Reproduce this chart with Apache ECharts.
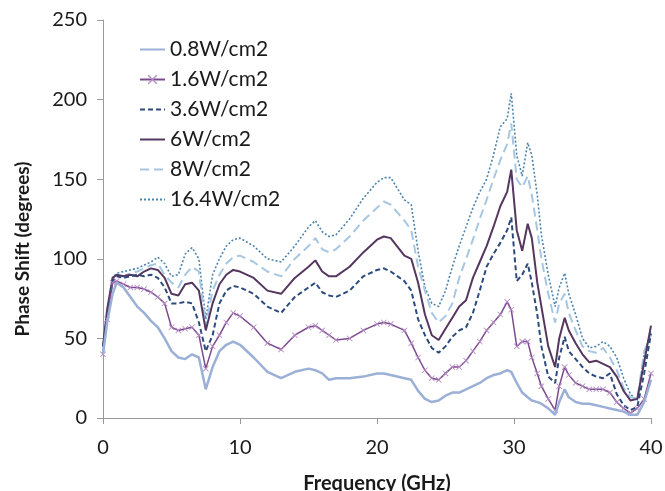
<!DOCTYPE html>
<html>
<head>
<meta charset="utf-8">
<script src="https://cdn.jsdelivr.net/npm/echarts@6/dist/echarts.min.js"></script>
<style>html,body{margin:0;padding:0;background:#fff}#c{width:665px;height:491px}</style>
</head>
<body>
<div id="c"></div>
<script>
const freq = [0,0.3,0.7,1,1.5,2,2.5,3,3.5,4,
  4.5,5,5.5,6,6.5,7,7.5,8,8.5,9,
  9.5,10,11,12,13,14,15,15.5,16,16.5,
  17,18,19,20,20.5,21,22,22.5,23,23.5,
  24,24.5,25,25.5,26,26.5,27,27.5,28,28.5,
  29,29.5,29.8,30.2,30.6,31,31.3,31.7,32,32.5,
  33,33.3,33.7,34,34.5,35,35.5,36,36.5,37,
  37.5,38,38.5,39,39.5,40];
const s08 = [40,60,78,85,82,76,70,66,61,57,
  50,42,38,37,40,38,18,32,42,46,
  48,46,38,29,25,29,31,30,28,24,
  25,25,26,28,28,27,25,24,17,12,
  10,11,14,16,16,18,20,22,25,27,
  28,30,29,22,16,13,11,10,9,6,
  2,10,18,13,10,9,9,8,7,6,
  5,4,2,2,10,24];
const s16 = [40,62,85,86,84,82,82,81,79,76,
  72,57,55,56,57,52,31,45,52,60,
  66,64,57,47,43,52,57,58,55,52,
  49,50,55,59,60,59,55,47,38,30,
  25,24,28,32,32,36,42,48,55,60,
  65,73,68,45,48,48,38,28,20,12,
  5,20,32,27,22,20,18,18,18,16,
  10,6,3,6,12,28];
const s36 = [45,65,86,89,88,89,90,89,90,88,
  82,72,72,73,72,60,42,52,72,80,
  83,82,78,70,66,76,82,85,79,77,
  76,80,89,93,94,92,86,80,62,52,
  44,41,45,51,55,57,66,80,95,103,
  110,118,126,86,90,97,85,65,45,26,
  22,38,51,42,37,32,28,26,25,28,
  15,8,5,7,28,53];
const s6 = [45,68,88,90,89,90,89,92,94,93,
  88,78,77,84,85,80,55,72,84,90,
  93,92,88,80,78,88,95,99,92,89,
  89,95,104,112,114,113,102,100,85,65,
  52,49,56,63,70,74,88,98,108,120,
  133,142,156,118,105,122,113,85,70,45,
  32,50,63,55,47,40,35,36,34,32,
  26,17,11,12,35,58];
const s8 = [42,65,88,90,89,91,92,94,96,97,
  90,85,82,90,95,92,58,80,90,97,
  101,102,98,92,89,100,108,113,106,104,
  106,114,124,132,136,134,124,118,95,80,
  66,60,64,72,88,100,112,125,137,150,
  162,172,185,150,145,152,140,118,100,78,
  60,72,78,66,55,45,42,41,44,38,
  30,19,13,12,42,52];
const s164 = [40,65,88,91,92,93,94,96,98,101,
  97,89,90,103,107,100,62,90,100,108,
  112,113,108,100,98,108,120,124,117,114,
  115,125,138,148,151,151,137,134,105,82,
  72,70,80,95,108,120,132,142,150,165,
  183,188,204,165,152,173,165,140,115,90,
  70,82,91,78,65,50,44,45,48,45,
  38,25,15,11,40,55];
const seriesNames = ['0.8W/cm2','1.6W/cm2','3.6W/cm2','6W/cm2','8W/cm2','16.4W/cm2'];
const seriesValues = [s08, s16, s36, s6, s8, s164];
const xTicks = {min:0, max:40, step:10};
const yTicks = {min:0, max:250, step:50};

const styles = [
  {color:'#9BB0D6', width:2.5, type:'solid'},
  {color:'#7B4A8E', width:1.5, type:'solid'},
  {color:'#2C4B7C', width:2, type:[5,3]},
  {color:'#55365F', width:2, type:'solid'},
  {color:'#A6C6E2', width:2, type:[9,5]},
  {color:'#4D84AE', width:1.6, type:[2,2]}
];
const xMark = 'path://M0,1L1,0L5,4L9,0L10,1L6,5L10,9L9,10L5,6L1,10L0,9L4,5Z';
const FONT = 'Lato';

const series = seriesValues.map((vals, k) => {
  const st = styles[k];
  const s = {
    name: seriesNames[k],
    type: 'line',
    data: freq.map((f, i) => [f, vals[i]]),
    lineStyle: {color: st.color, width: st.width, type: st.type},
    itemStyle: {color: st.color},
    symbol: 'none',
    z: 10 - k,
    animation: false
  };
  if (k === 1) {
    s.symbol = xMark;
    s.symbolSize = 6;
    s.showSymbol = true;
    s.showAllSymbol = true;
    s.itemStyle = {color: '#B58BC4'};
  }
  return s;
});

const chart = echarts.init(document.getElementById('c'), null, {renderer:'canvas'});
chart.setOption({
  backgroundColor: '#ffffff',
  animation: false,
  grid: {left:103, right:14, top:20, bottom:73, containLabel:false, outerBoundsMode:'none'},
  legend: {
    orient: 'vertical', left: 134, top: 34,
    itemWidth: 25, itemHeight: 12, itemGap: 9,
    data: seriesNames.map((n, k) => k === 1
      ? {name: n}
      : {name: n, itemStyle: {opacity: 0}}),
    textStyle: {fontFamily: FONT, fontSize: 21, color: '#1a1a1a'}
  },
  xAxis: {
    type: 'value', min: xTicks.min, max: xTicks.max, interval: xTicks.step,
    name: 'Frequency (GHz)', nameLocation: 'middle', nameGap: 56,
    nameTextStyle: {fontFamily: FONT, fontSize: 20, fontWeight: 'bold', color: '#1a1a1a'},
    axisLine: {lineStyle: {color: '#9a9a9a', width: 1}},
    axisTick: {show: true, inside: false, length: 6, lineStyle: {color: '#9a9a9a'}},
    axisLabel: {fontFamily: FONT, fontSize: 20, color: '#1a1a1a', margin: 20},
    splitLine: {show: false}
  },
  yAxis: {
    type: 'value', min: yTicks.min, max: yTicks.max, interval: yTicks.step,
    name: 'Phase Shift (degrees)', nameLocation: 'middle', nameGap: 71, nameRotate: 90,
    nameTextStyle: {fontFamily: FONT, fontSize: 19, fontWeight: 'bold', color: '#1a1a1a', padding: [0, 60, 0, 0]},
    axisLine: {show: true, lineStyle: {color: '#9a9a9a', width: 1}},
    axisTick: {show: true, inside: false, length: 6, lineStyle: {color: '#9a9a9a'}},
    axisLabel: {fontFamily: FONT, fontSize: 20, color: '#1a1a1a', margin: 16},
    splitLine: {show: false}
  },
  series: series
});
</script>
</body>
</html>
